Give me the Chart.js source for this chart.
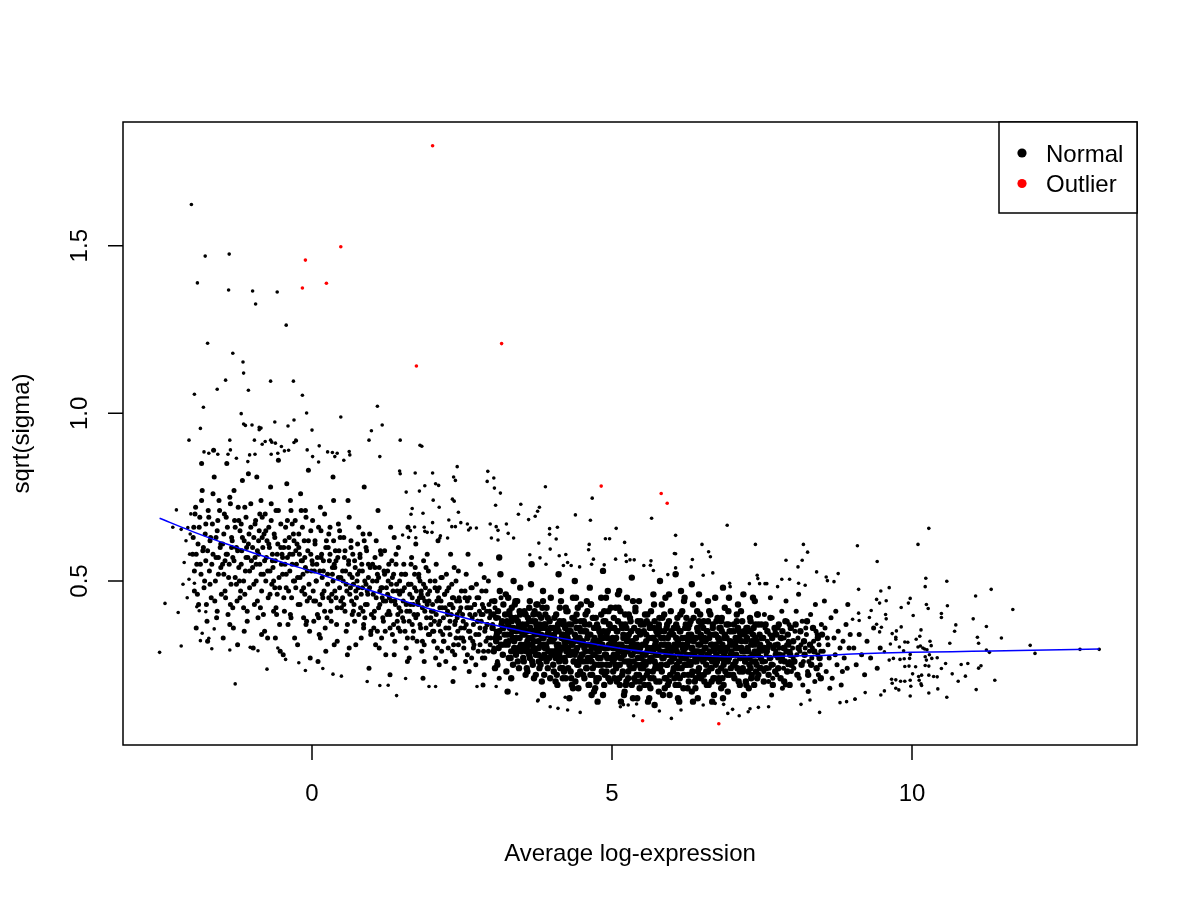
<!DOCTYPE html>
<html><head><meta charset="utf-8">
<style>html,body{margin:0;padding:0;background:#fff}canvas{display:block}</style>
<script src="https://cdn.jsdelivr.net/npm/chart.js@4.4.0/dist/chart.umd.min.js"></script>
</head><body>
<canvas id="c" width="1200" height="900"></canvas>
<script>
// ---- data ----
const xTicks = [0, 5, 10];
const xTickLabels = ["0", "5", "10"];
const yTicks = [0.5, 1.0, 1.5];
const yTickLabels = ["0.5", "1.0", "1.5"];
const xTitle = "Average log-expression";
const yTitle = "sqrt(sigma)";
const legendLabels = ["Normal", "Outlier"];

const trendX = [-2.54,-2,-1.5,-1,-0.5,0,0.5,1,1.5,2,2.5,3,3.5,4,4.5,5,5.5,6,6.5,7,7.5,8,8.5,9,9.5,10,11,12,13.12];
const trendY = [.687,.648,.615,.585,.556,.528,.498,.470,.442,.415,.392,.370,.351,.334,.318,.303,.290,.281,.276,.274,.274,.276,.278,.282,.285,.287,.290,.293,.297];

const outlierPts = [[2.01,1.798],[0.48,1.497],[-0.11,1.457],[-0.16,1.374],[0.24,1.388],[3.16,1.208],[1.74,1.141],[4.82,.783],[5.82,.761],[5.92,.732],[5.51,.083],[6.78,.074]];

const normalSparse = [
[-2.01,1.623],[-1.78,1.469],[-1.38,1.475],[-1.91,1.389],[-1.39,1.368],[-0.99,1.365],[-0.58,1.362],[-0.94,1.326],[-0.43,1.263],[-1.74,1.209],[-1.32,1.179],[-1.15,1.153],[-1.14,1.120],[-1.44,1.099],[-0.69,1.096],[-0.31,1.096],[-1.96,1.057],[-1.58,1.072],[-1.06,1.069],[-0.16,1.054],[-1.81,1.018],[1.09,1.021],[-1.18,0.999],[-0.09,1.001],[0.48,0.989],[-0.30,0.980],[-0.62,0.974],[-1.14,0.968],[-1.11,0.964],[-1.00,0.965],[-1.86,0.955],[-0.88,0.958],[-0.85,0.956],[-0.88,0.951],[-0.40,0.962],[0.00,0.950],[1.17,0.965],[0.99,0.948],[-1.37,0.92],[-0.96,0.92],[-0.69,0.92],[-0.27,0.92],[0.95,0.92],[1.47,0.92],[-2.05,0.92],
[-1.80,.885],[-1.72,.881],[-1.57,.878],[-1.36,.891],[-1.40,.878],[-1.26,.866],[-1.04,.876],[-0.95,.878],[-1.07,.856],[-0.83,.908],[-0.78,.916],[-0.67,.914],[-0.61,.911],[-0.68,.878],[-0.57,.881],[-0.51,.901],[-0.46,.888],[-0.39,.89],[-0.30,.913],[-0.26,.918],[-0.08,.891],[0.01,.871],[0.11,.855],[0.12,.903],[0.26,.885],[0.34,.883],[0.42,.881],[0.38,.871],[0.62,.886],[0.63,.876],[0.53,.86],[1.13,.871],[1.46,.828],[1.80,.905],
[1.83,.902],[2.42,.841],[2.93,.827],[1.72,.822],[2.01,.822],[1.47,.82],[2.36,.81],[2.39,.80],[3.03,.807],[2.92,.797],[1.88,.784],[2.06,.79],[2.11,.785],[3.89,.781],[1.57,.765],[1.79,.768],[3.04,.777],[3.14,.762],[4.67,.747],[2.02,.741],[2.34,.744],[2.37,.738],[3.06,.726],[3.79,.72],[3.76,.708],[1.67,.716],[2.12,.72],[2.44,.705],[1.85,.702],[1.65,.699],[3.48,.729],[3.44,.699],[3.72,.693],[3.61,.683],[4.39,.697],[4.64,.681],[5.66,.687],[5.07,.657],[6.06,.636],[6.92,.666],[2.01,.674],[2.28,.682],[2.48,.674],[2.59,.67],[2.33,.662],[2.39,.662],[2.97,.67],[3.24,.67],[3.07,.662],[3.10,.651],[3.27,.642],[3.96,.656],[4.09,.66],[2.64,.658],[2.61,.652],[2.74,.658],[1.71,.661],[1.87,.66],[1.64,.65],[1.88,.648],[1.92,.645],[2.00,.645],[1.51,.637],[2.14,.635],[1.61,.630],[1.73,.629],[2.13,.628],[2.26,.628],[2.99,.628],[3.10,.622],[3.36,.628],[3.96,.639],[4.07,.625],[4.89,.626],[4.96,.626],
[3.78,.613],[3.97,.595],[4.62,.609],[4.61,.593],[5.21,.615],[6.50,.609],[7.39,.609],[8.19,.609],[8.26,.586],[9.09,.605],[10.28,.657],[10.10,.609],[9.42,.558],[3.80,.569],[3.63,.578],[3.90,.55],[4.12,.575],[4.23,.579],[4.26,.555],[4.19,.546],[4.32,.546],[4.46,.542],[4.69,.565],[4.66,.55],[4.87,.548],[5.06,.565],[5.23,.577],[5.24,.558],[5.30,.563],[5.37,.563],[5.65,.56],[5.53,.546],[5.64,.547],[5.69,.531],[6.04,.582],[6.06,.581],[6.34,.564],[6.64,.572],[6.61,.587],[6.06,.539],[6.32,.542],[5.93,.519],[6.08,.523],[6.52,.517],[6.68,.524],[6.96,.493],[6.97,.483],[7.90,.562],[8.10,.542],[8.17,.562],[8.41,.527],[8.57,.512],[8.59,.501],[8.70,.498],[8.77,.522],[7.42,.517],[7.43,.507],[7.83,.505],[7.96,.505],[8.11,.493],[8.22,.487],[7.29,.492],[7.46,.492],[7.55,.492],[7.58,.492],[7.76,.483],[9.62,.48],[9.11,.475],[10.23,.508],[10.22,.483],[10.58,.499],[9.48,.47],
[11.32,.475],[11.06,.455],[9.41,.445],[9.57,.441],[9.46,.434],[9.97,.448],[9.94,.434],[9.82,.421],[10.24,.43],[10.27,.418],[10.59,.426],[9.32,.412],[10.49,.403],[10.49,.391],[10.02,.397],[9.56,.40],[9.57,.387],[11.02,.387],[9.11,.404],[9.01,.386],[9.12,.382],[9.29,.391],[10.73,.369],[10.71,.35],[11.24,.364],[9.82,.363],[9.74,.351],[9.67,.343],[9.49,.362],[9.41,.371],[9.46,.348],[10.15,.354],[10.13,.335],[11.49,.33],[11.09,.332],[11.11,.314],[11.97,.308],[10.63,.314],[10.30,.32],[10.32,.307],[10.07,.326],[9.88,.318],[9.73,.326],[9.73,.332],[9.93,.317],[10.10,.303],[10.14,.306],[10.21,.297],[10.25,.295],[10.18,.30],[11.24,.294],[11.29,.287],[12.05,.284],[12.80,.296],[13.12,.296],[9.79,.303],[9.86,.292],[9.64,.312],[9.54,.289],[10.29,.28],[10.33,.269],[10.42,.271],[10.22,.274],[10.24,.264],[9.97,.281],[9.96,.269],[9.87,.268],[9.80,.266],[9.69,.269],[9.62,.264],[10.82,.251],[10.93,.254],[10.56,.254],[11.15,.247],[11.11,.24],[10.49,.239],[10.28,.246],[10.22,.248],[10.06,.244],[9.95,.246],[9.88,.245],[10.67,.223],[10.89,.216],[10.36,.215],[10.42,.214],[10.28,.219],[10.16,.219],[10.11,.215],[10.01,.223],[10.77,.201],[11.38,.204],[10.15,.193],[10.16,.188],[10.12,.204],[9.97,.204],[9.88,.201],[9.81,.201],[9.73,.205],[11.07,.176],[10.43,.178],[10.28,.166],[9.97,.157],[9.98,.186],[10.58,.153],[9.78,.175],[9.73,.18],[9.67,.195],[9.66,.207],[9.54,.172],[9.48,.16],[9.22,.167],[9.05,.147],[11.68,.415],
[-2.54,.287],[-2.45,.433],[-2.23,.406],[-2.18,.306],[-1.86,.322],[-1.72,.329],[-1.67,.298],[-1.88,.411],[-1.77,.408],[-1.92,.423],[-2.13,.555],[-2.05,.505],[-1.96,.493],[-2.26,.712],[-2.32,.66],[-2.18,.654],[-2.07,.659],[-1.83,.344],[-1.63,.357],[-1.37,.294],[-1.28,.193],[-1.03,.302],[-0.90,.292],[-0.75,.237],[-0.57,.30],[-0.44,.266],[-0.22,.256],[-0.11,.233],[0.18,.239],[0.35,.222],[0.49,.216],[0.92,.20],[1.13,.188],[1.27,.189],[1.41,.158],[1.56,.209],[1.95,.185],[2.06,.185],[2.75,.185],[3.07,.185],[3.41,.163],[3.77,.145],
[5.36,.098],[5.99,.09],[7.12,.098],[4.47,.108],[8.46,.108],[8.15,.132],[6.93,.105],[7.01,.117],[7.27,.11],[7.30,.119],[7.44,.123],[7.61,.125],[4.22,.153],[3.76,.142],[3.97,.125],[4.10,.12],[4.26,.115],[5.14,.125],[5.19,.131],[5.27,.13],[5.41,.133],[5.79,.112],[6.15,.115],[6.52,.13],[6.72,.135],[6.86,.132],[8.30,.145],[8.80,.137],[8.91,.14],[9.05,.148],
[-2.10,.62],[-2.04,.58],[-2.02,.70],[-2.15,.49],[-2.08,.45],[-2.03,.64]
];

const bandLeft = [
[-1.99,.58],[-1.97,.66],[-1.96,.47],[-1.94,.72],[-1.92,.55],[-1.90,.61],[-1.89,.43],[-1.87,.69],[-1.85,.52],[-1.83,.77],[-1.82,.59],[-1.80,.48],[-1.78,.64],[-1.77,.56],[-1.75,.38],[-1.73,.71],[-1.71,.53],[-1.70,.62],[-1.68,.45],[-1.66,.67],[-1.65,.58],[-1.63,.81],[-1.61,.50],[-1.60,.63],[-1.58,.41],[-1.56,.57],[-1.55,.74],[-1.53,.60],[-1.51,.46],[-1.93,.36],[-1.84,.85],[-1.74,.32],[-1.64,.89],[-1.57,.68],[-1.52,.54],
[-1.49,.61],[-1.47,.52],[-1.46,.70],[-1.44,.45],[-1.43,.58],[-1.41,.66],[-1.40,.40],[-1.38,.55],[-1.37,.75],[-1.35,.49],[-1.34,.63],[-1.32,.57],[-1.31,.36],[-1.29,.68],[-1.28,.51],[-1.26,.60],[-1.25,.44],[-1.23,.72],[-1.22,.54],[-1.20,.65],[-1.19,.47],[-1.17,.59],[-1.16,.80],[-1.14,.42],[-1.13,.62],[-1.11,.53],[-1.10,.69],[-1.08,.38],[-1.07,.57],[-1.05,.64],[-1.04,.48],[-1.02,.73],[-1.01,.56],[-1.48,.33],[-1.42,.85],[-1.36,.43],[-1.30,.77],[-1.24,.31],[-1.18,.67],[-1.12,.46],[-1.06,.82],[-1.45,.56],[-1.33,.62],[-1.21,.50],[-1.09,.60],
[-0.99,.54],[-0.97,.63],[-0.96,.43],[-0.94,.68],[-0.93,.50],[-0.91,.59],[-0.90,.39],[-0.88,.65],[-0.87,.55],[-0.85,.74],[-0.84,.47],[-0.82,.60],[-0.81,.52],[-0.79,.35],[-0.78,.70],[-0.76,.57],[-0.75,.62],[-0.73,.45],[-0.72,.66],[-0.70,.53],[-0.69,.78],[-0.67,.49],[-0.66,.58],[-0.64,.41],[-0.63,.64],[-0.61,.56],[-0.60,.71],[-0.58,.46],[-0.57,.61],[-0.55,.51],[-0.54,.37],[-0.52,.67],[-0.51,.55],[-0.98,.30],[-0.92,.81],[-0.86,.42],[-0.80,.64],[-0.74,.33],[-0.68,.73],[-0.62,.48],[-0.56,.86],[-0.53,.29],[-0.95,.57],[-0.83,.69],[-0.77,.50],[-0.71,.60],[-0.65,.54],[-0.59,.40],[-0.89,.62],[-0.50,.58],
[-0.49,.52],[-0.47,.60],[-0.46,.41],[-0.44,.66],[-0.43,.48],[-0.41,.57],[-0.40,.37],[-0.38,.63],[-0.37,.53],[-0.35,.71],[-0.34,.45],[-0.32,.58],[-0.31,.50],[-0.29,.33],[-0.28,.68],[-0.26,.55],[-0.25,.61],[-0.23,.43],[-0.22,.64],[-0.20,.51],[-0.19,.76],[-0.17,.47],[-0.16,.56],[-0.14,.39],[-0.13,.62],[-0.11,.54],[-0.10,.69],[-0.08,.44],[-0.07,.59],[-0.05,.49],[-0.04,.35],[-0.02,.65],[-0.01,.53],[-0.48,.28],[-0.42,.79],[-0.36,.40],[-0.30,.62],[-0.24,.31],[-0.18,.71],[-0.12,.46],[-0.06,.83],[-0.03,.27],[-0.45,.55],[-0.33,.67],[-0.27,.48],[-0.21,.58],[-0.15,.52],[-0.09,.38],[-0.39,.60],[0.00,.56]
];

const bandLeft2 = [
[-1.98,.63],[-1.96,.53],[-1.95,.70],[-1.93,.58],[-1.91,.46],[-1.88,.66],[-1.86,.55],[-1.84,.74],[-1.81,.60],[-1.79,.50],[-1.77,.67],[-1.76,.43],
[-1.74,.59],[-1.72,.69],[-1.70,.49],[-1.69,.63],[-1.67,.55],[-1.65,.76],[-1.62,.44],[-1.60,.57],[-1.58,.65],[-1.56,.52],[-1.54,.71],[-1.52,.61],[-1.59,.39],
[-1.49,.55],[-1.47,.64],[-1.45,.47],[-1.43,.69],[-1.41,.58],[-1.39,.51],[-1.36,.73],[-1.34,.60],[-1.32,.42],[-1.30,.56],[-1.28,.66],[-1.26,.49],[-1.37,.37],
[-1.24,.59],[-1.22,.68],[-1.20,.45],[-1.18,.55],[-1.16,.63],[-1.14,.50],[-1.12,.72],[-1.10,.57],[-1.08,.41],[-1.06,.61],[-1.04,.53],[-1.02,.66],[-1.13,.35],
[-0.99,.60],[-0.97,.49],[-0.95,.67],[-0.93,.55],[-0.91,.44],[-0.89,.58],[-0.87,.70],[-0.85,.52],[-0.83,.63],[-0.81,.40],[-0.79,.56],[-0.77,.65],[-0.84,.34],
[-0.74,.53],[-0.72,.61],[-0.70,.46],[-0.68,.68],[-0.66,.56],[-0.64,.50],[-0.62,.63],[-0.60,.42],[-0.58,.58],[-0.56,.71],[-0.54,.48],[-0.52,.60],[-0.61,.33],
[-0.49,.57],[-0.47,.45],[-0.45,.62],[-0.43,.52],[-0.41,.68],[-0.39,.47],[-0.37,.58],[-0.35,.39],[-0.33,.55],[-0.31,.64],[-0.29,.50],[-0.27,.59],[-0.36,.74],
[-0.24,.51],[-0.22,.60],[-0.20,.43],[-0.18,.56],[-0.16,.66],[-0.14,.48],[-0.12,.57],[-0.10,.37],[-0.08,.53],[-0.06,.62],[-0.04,.45],[-0.02,.58],[-0.11,.71],
[0.01,.55],[0.03,.44],[0.05,.62],[0.07,.50],[0.09,.57],[0.11,.39],[0.13,.53],[0.15,.65],[0.17,.46],[0.19,.56],[0.21,.41],[0.23,.60],[0.14,.33],
[0.26,.52],[0.28,.45],[0.30,.58],[0.32,.38],[0.34,.54],[0.36,.62],[0.38,.47],[0.40,.56],[0.42,.42],[0.44,.51],[0.46,.65],[0.48,.44],[0.37,.31],
[0.51,.53],[0.53,.43],[0.55,.59],[0.57,.49],[0.59,.37],[0.61,.55],[0.63,.46],[0.65,.62],[0.67,.51],[0.69,.41],[0.71,.56],[0.73,.47],[0.62,.30],
[0.76,.52],[0.78,.40],[0.80,.58],[0.82,.46],[0.84,.53],[0.86,.37],[0.88,.50],[0.90,.60],[0.92,.43],[0.94,.55],[0.96,.48],[0.98,.34],[0.85,.64],
[1.01,.50],[1.03,.39],[1.05,.54],[1.07,.45],[1.09,.35],[1.11,.51],[1.13,.43],[1.15,.58],[1.17,.48],[1.19,.38],[1.21,.52],[1.23,.44],[1.12,.30],
[1.26,.46],[1.28,.55],[1.30,.40],[1.32,.49],[1.34,.34],[1.36,.52],[1.38,.44],[1.40,.58],[1.42,.47],[1.44,.36],[1.46,.50],[1.48,.41],[1.37,.28],
[1.51,.47],[1.53,.38],[1.55,.52],[1.57,.43],[1.59,.33],[1.61,.49],[1.63,.41],[1.65,.55],[1.67,.45],[1.69,.35],[1.71,.48],[1.73,.39],[1.62,.27],
[1.76,.44],[1.78,.52],[1.80,.37],[1.82,.46],[1.84,.32],[1.86,.49],[1.88,.41],[1.90,.54],[1.92,.43],[1.94,.34],[1.96,.47],[1.98,.39],[1.87,.26],
[2.01,.43],[2.03,.35],[2.05,.48],[2.07,.40],[2.09,.30],[2.11,.45],[2.13,.38],[2.15,.51],[2.17,.42],[2.19,.32],[2.21,.46],[2.23,.36],[2.12,.25],
[2.26,.41],[2.28,.48],[2.30,.34],[2.32,.43],[2.34,.29],[2.36,.45],[2.38,.37],[2.40,.50],[2.42,.40],[2.44,.31],[2.46,.44],[2.48,.36],[2.37,.24],
[2.51,.40],[2.53,.32],[2.55,.45],[2.57,.37],[2.59,.28],[2.61,.42],[2.63,.35],[2.65,.48],[2.67,.39],[2.69,.30],[2.71,.43],[2.73,.34],[2.62,.23],
[2.76,.38],[2.78,.45],[2.80,.31],[2.82,.40],[2.84,.27],[2.86,.42],[2.88,.35],[2.90,.47],[2.92,.37],[2.94,.29],[2.96,.41],[2.98,.33],[2.87,.22],
[3.01,.37],[3.03,.30],[3.05,.42],[3.07,.35],[3.09,.26],[3.11,.39],[3.13,.33],[3.15,.45],[3.17,.36],[3.19,.28],[3.21,.40],[3.23,.32],[3.12,.21]
];

const bandMid = [
[0.02,.47],[0.05,.61],[0.03,.38],[0.08,.55],[0.11,.66],[0.07,.50],[0.13,.43],[0.16,.58],[0.12,.34],[0.19,.53],[0.21,.70],[0.18,.45],[0.24,.62],[0.26,.49],[0.23,.29],[0.29,.56],[0.31,.41],[0.28,.64],[0.34,.52],[0.36,.74],[0.33,.46],[0.39,.59],[0.41,.37],[0.38,.54],[0.44,.67],[0.46,.48],[0.43,.57],[0.49,.42],[0.47,.63],[0.04,.53],[0.09,.40],[0.14,.72],[0.17,.51],[0.22,.36],[0.27,.60],[0.32,.44],[0.37,.55],[0.42,.32],[0.48,.51],[0.01,.68],[0.06,.44],[0.15,.57],[0.20,.47],[0.25,.39],[0.30,.66],[0.35,.50],[0.40,.45],[0.45,.59],[0.10,.26],[0.35,.81],
[0.52,.50],[0.55,.41],[0.53,.63],[0.58,.47],[0.61,.56],[0.57,.35],[0.63,.52],[0.66,.44],[0.62,.69],[0.69,.49],[0.71,.38],[0.68,.58],[0.74,.45],[0.76,.61],[0.73,.31],[0.79,.53],[0.81,.42],[0.78,.66],[0.84,.48],[0.86,.36],[0.83,.55],[0.89,.43],[0.91,.59],[0.88,.39],[0.94,.51],[0.96,.64],[0.93,.46],[0.99,.40],[0.97,.54],[0.54,.57],[0.59,.28],[0.64,.48],[0.67,.40],[0.72,.54],[0.77,.48],[0.82,.33],[0.87,.62],[0.92,.47],[0.98,.35],[0.51,.45],[0.56,.53],[0.65,.60],[0.70,.43],[0.75,.50],[0.80,.57],[0.85,.41],[0.90,.49],[0.95,.24],[0.60,.74],[0.87,.78],
[1.02,.46],[1.05,.57],[1.03,.36],[1.08,.50],[1.11,.42],[1.07,.62],[1.13,.47],[1.16,.33],[1.12,.54],[1.19,.44],[1.21,.59],[1.18,.39],[1.24,.48],[1.26,.53],[1.23,.28],[1.29,.45],[1.31,.66],[1.28,.41],[1.34,.51],[1.36,.37],[1.33,.56],[1.39,.43],[1.41,.49],[1.38,.32],[1.44,.60],[1.46,.46],[1.43,.40],[1.49,.52],[1.47,.35],[1.04,.41],[1.09,.52],[1.14,.59],[1.17,.45],[1.22,.35],[1.27,.50],[1.32,.44],[1.37,.63],[1.42,.38],[1.48,.47],[1.01,.55],[1.06,.31],[1.15,.48],[1.20,.53],[1.25,.40],[1.30,.36],[1.35,.47],[1.40,.55],[1.45,.42],[1.10,.71],[1.30,.22],
[1.52,.44],[1.55,.35],[1.53,.55],[1.58,.41],[1.61,.49],[1.57,.30],[1.63,.46],[1.66,.57],[1.62,.38],[1.69,.43],[1.71,.52],[1.68,.33],[1.74,.47],[1.76,.40],[1.73,.61],[1.79,.45],[1.81,.36],[1.78,.51],[1.84,.42],[1.86,.56],[1.83,.29],[1.89,.48],[1.91,.39],[1.88,.44],[1.94,.53],[1.96,.34],[1.93,.46],[1.99,.41],[1.97,.50],[1.54,.48],[1.59,.26],[1.64,.43],[1.67,.37],[1.72,.54],[1.77,.43],[1.82,.47],[1.87,.31],[1.92,.58],[1.98,.37],[1.51,.39],[1.56,.52],[1.65,.49],[1.70,.40],[1.75,.32],[1.80,.50],[1.85,.45],[1.90,.36],[1.95,.44],[1.60,.66],[1.85,.21],
[2.02,.41],[2.05,.50],[2.03,.32],[2.08,.44],[2.11,.37],[2.07,.55],[2.13,.42],[2.16,.29],[2.12,.48],[2.19,.39],[2.21,.46],[2.18,.34],[2.24,.52],[2.26,.40],[2.23,.26],[2.29,.43],[2.31,.58],[2.28,.36],[2.34,.45],[2.36,.31],[2.33,.49],[2.39,.38],[2.41,.44],[2.38,.28],[2.44,.53],[2.46,.41],[2.43,.35],[2.49,.47],[2.47,.33],[2.04,.38],[2.09,.47],[2.14,.35],[2.17,.51],[2.22,.42],[2.27,.30],[2.32,.40],[2.37,.54],[2.42,.39],[2.48,.42],[2.01,.35],[2.06,.27],[2.15,.44],[2.20,.32],[2.25,.47],[2.30,.38],[2.35,.42],[2.40,.33],[2.45,.45],[2.10,.62],[2.35,.20],
[2.52,.38],[2.55,.47],[2.53,.30],[2.58,.42],[2.61,.35],[2.57,.52],[2.63,.40],[2.66,.27],[2.62,.45],[2.69,.37],[2.71,.43],[2.68,.32],[2.74,.49],[2.76,.38],[2.73,.25],[2.79,.41],[2.81,.55],[2.78,.34],[2.84,.43],[2.86,.29],[2.83,.47],[2.89,.36],[2.91,.41],[2.88,.27],[2.94,.50],[2.96,.39],[2.93,.33],[2.99,.44],[2.97,.31],[2.54,.36],[2.59,.44],[2.64,.33],[2.67,.48],[2.72,.40],[2.77,.29],[2.82,.38],[2.87,.51],[2.92,.37],[2.98,.40],[2.51,.33],[2.56,.26],[2.65,.42],[2.70,.31],[2.75,.45],[2.80,.36],[2.85,.40],[2.90,.32],[2.95,.43],[2.60,.58],[2.85,.19]
];

const bandCore = [
[3.01,.36],[3.03,.29],[3.04,.44],[3.06,.33],[3.07,.39],[3.09,.25],[3.10,.41],[3.12,.35],[3.13,.47],[3.15,.31],[3.16,.37],[3.18,.28],[3.19,.43],[3.21,.34],[3.22,.40],[3.24,.23],[3.25,.38],[3.27,.45],[3.28,.32],[3.30,.36],[3.31,.27],[3.33,.42],[3.34,.35],[3.36,.50],[3.37,.30],[3.39,.39],[3.40,.33],[3.42,.44],[3.43,.26],[3.45,.37],[3.46,.41],[3.48,.31],[3.49,.35],[3.02,.40],[3.05,.24],[3.08,.34],[3.11,.30],[3.14,.52],[3.17,.38],[3.20,.31],[3.23,.46],[3.26,.34],[3.29,.40],[3.32,.21],[3.35,.33],[3.38,.43],[3.41,.29],[3.44,.36],[3.47,.48],[3.26,.17],[3.12,.57],[3.33,.38],[3.19,.36],[3.40,.39],[3.07,.32],
[3.51,.34],[3.52,.27],[3.54,.41],[3.55,.31],[3.57,.37],[3.58,.24],[3.60,.39],[3.61,.33],[3.63,.44],[3.64,.29],[3.66,.35],[3.67,.26],[3.69,.40],[3.70,.32],[3.72,.38],[3.73,.22],[3.75,.36],[3.76,.43],[3.78,.30],[3.79,.34],[3.81,.25],[3.82,.39],[3.84,.33],[3.85,.47],[3.87,.28],[3.88,.36],[3.90,.31],[3.91,.42],[3.93,.24],[3.94,.35],[3.96,.38],[3.97,.29],[3.99,.33],[3.53,.36],[3.56,.22],[3.59,.32],[3.62,.28],[3.65,.49],[3.68,.35],[3.71,.29],[3.74,.43],[3.77,.32],[3.80,.37],[3.83,.20],[3.86,.31],[3.89,.40],[3.92,.27],[3.95,.34],[3.98,.45],[3.58,.30],[3.62,.38],[3.67,.31],[3.71,.35],[3.78,.26],[3.82,.34],[3.87,.37],[3.91,.30],[3.95,.27],[3.66,.55],[3.85,.16],
[4.01,.32],[4.02,.25],[4.04,.39],[4.05,.29],[4.07,.35],[4.08,.22],[4.10,.37],[4.11,.31],[4.13,.42],[4.14,.27],[4.16,.33],[4.17,.24],[4.19,.38],[4.20,.30],[4.22,.36],[4.23,.21],[4.25,.34],[4.26,.41],[4.28,.28],[4.29,.32],[4.31,.23],[4.32,.37],[4.34,.31],[4.35,.45],[4.37,.26],[4.38,.34],[4.40,.29],[4.41,.40],[4.43,.22],[4.44,.33],[4.46,.36],[4.47,.27],[4.49,.31],[4.03,.34],[4.06,.20],[4.09,.30],[4.12,.26],[4.15,.47],[4.18,.33],[4.21,.27],[4.24,.41],[4.27,.30],[4.30,.35],[4.33,.19],[4.36,.29],[4.39,.38],[4.42,.25],[4.45,.32],[4.48,.43],[4.04,.28],[4.09,.36],[4.13,.29],[4.18,.24],[4.22,.31],[4.27,.35],[4.31,.28],[4.36,.39],[4.40,.33],[4.45,.26],[4.48,.35],[4.11,.52],[4.29,.15],[4.38,.50],[4.20,.34],[4.44,.18],
[4.51,.28],[4.53,.35],[4.52,.22],[4.55,.31],[4.56,.40],[4.58,.26],[4.59,.33],[4.61,.19],[4.62,.37],[4.64,.29],[4.65,.43],[4.67,.31],[4.68,.24],[4.70,.36],[4.71,.28],[4.73,.39],[4.74,.21],[4.76,.32],[4.77,.27],[4.79,.35],[4.80,.30],[4.82,.45],[4.83,.25],[4.85,.33],[4.86,.38],[4.88,.22],[4.89,.30],[4.91,.34],[4.92,.27],[4.94,.41],[4.95,.31],[4.97,.20],[4.98,.36],[4.54,.30],[4.57,.24],[4.60,.34],[4.63,.48],[4.66,.26],[4.69,.32],[4.72,.18],[4.75,.37],[4.78,.29],[4.81,.34],[4.84,.23],[4.87,.41],[4.90,.28],[4.93,.35],[4.96,.25],[4.99,.32],[4.55,.37],[4.60,.27],[4.64,.22],[4.69,.39],[4.73,.30],[4.78,.25],[4.82,.33],[4.87,.30],[4.91,.23],[4.95,.37],[4.99,.27],[4.66,.16],[4.85,.53],[4.76,.14],[4.58,.44],[4.93,.47],
[5.01,.30],[5.02,.23],[5.04,.36],[5.05,.27],[5.07,.33],[5.08,.20],[5.10,.38],[5.11,.29],[5.13,.25],[5.14,.41],[5.16,.31],[5.17,.22],[5.19,.34],[5.20,.28],[5.22,.37],[5.23,.19],[5.25,.32],[5.26,.26],[5.28,.40],[5.29,.30],[5.31,.24],[5.32,.35],[5.34,.28],[5.35,.44],[5.37,.21],[5.38,.31],[5.40,.33],[5.41,.25],[5.43,.38],[5.44,.29],[5.46,.18],[5.47,.34],[5.49,.27],[5.03,.32],[5.06,.25],[5.09,.35],[5.12,.47],[5.15,.27],[5.18,.30],[5.21,.17],[5.24,.36],[5.27,.23],[5.30,.39],[5.33,.31],[5.36,.26],[5.39,.42],[5.42,.30],[5.45,.22],[5.48,.37],[5.03,.28],[5.08,.31],[5.12,.21],[5.17,.36],[5.21,.29],[5.26,.33],[5.30,.26],[5.35,.30],[5.39,.20],[5.44,.35],[5.48,.24],[5.15,.14],[5.33,.51],[5.25,.45],[5.42,.15],[5.06,.42],
[5.51,.28],[5.53,.35],[5.52,.21],[5.55,.31],[5.56,.25],[5.58,.38],[5.59,.29],[5.61,.19],[5.62,.33],[5.64,.27],[5.65,.41],[5.67,.30],[5.68,.23],[5.70,.36],[5.71,.26],[5.73,.32],[5.74,.20],[5.76,.34],[5.77,.28],[5.79,.39],[5.80,.24],[5.82,.31],[5.83,.43],[5.85,.27],[5.86,.33],[5.88,.18],[5.89,.29],[5.91,.36],[5.92,.25],[5.94,.31],[5.95,.38],[5.97,.22],[5.98,.30],[5.54,.26],[5.57,.32],[5.60,.23],[5.63,.37],[5.66,.29],[5.69,.46],[5.72,.24],[5.75,.30],[5.78,.17],[5.81,.35],[5.84,.27],[5.87,.40],[5.90,.21],[5.93,.33],[5.96,.28],[5.99,.35],[5.55,.40],[5.60,.30],[5.64,.21],[5.69,.33],[5.73,.28],[5.78,.37],[5.82,.25],[5.87,.31],[5.91,.28],[5.95,.20],[5.99,.26],[5.62,.15],[5.80,.50],[5.71,.13],[5.89,.45],[5.96,.16],
[6.01,.27],[6.02,.34],[6.04,.21],[6.05,.30],[6.07,.37],[6.08,.25],[6.10,.32],[6.11,.19],[6.13,.28],[6.14,.40],[6.16,.24],[6.17,.33],[6.19,.29],[6.20,.22],[6.22,.36],[6.23,.27],[6.25,.31],[6.26,.18],[6.28,.34],[6.29,.26],[6.31,.38],[6.32,.30],[6.34,.23],[6.35,.43],[6.37,.28],[6.38,.20],[6.40,.33],[6.41,.26],[6.43,.35],[6.44,.29],[6.46,.22],[6.47,.31],[6.49,.37],[6.03,.24],[6.06,.30],[6.09,.36],[6.12,.26],[6.15,.47],[6.18,.31],[6.21,.25],[6.24,.39],[6.27,.22],[6.30,.33],[6.33,.17],[6.36,.32],[6.39,.27],[6.42,.41],[6.45,.24],[6.48,.34],[6.04,.31],[6.09,.22],[6.13,.35],[6.18,.27],[6.22,.30],[6.27,.36],[6.31,.25],[6.36,.29],[6.40,.21],[6.45,.38],[6.49,.28],[6.12,.14],[6.33,.49],[6.21,.45],[6.43,.15],[6.06,.52],
[6.51,.29],[6.53,.22],[6.52,.36],[6.55,.27],[6.56,.32],[6.58,.19],[6.59,.35],[6.61,.28],[6.62,.41],[6.64,.24],[6.65,.31],[6.67,.26],[6.68,.37],[6.70,.30],[6.71,.21],[6.73,.34],[6.74,.28],[6.76,.39],[6.77,.23],[6.79,.32],[6.80,.27],[6.82,.18],[6.83,.35],[6.85,.30],[6.86,.25],[6.88,.42],[6.89,.29],[6.91,.33],[6.92,.22],[6.94,.37],[6.95,.27],[6.97,.31],[6.98,.24],[6.54,.33],[6.57,.25],[6.60,.38],[6.63,.29],[6.66,.20],[6.69,.34],[6.72,.45],[6.75,.26],[6.78,.30],[6.81,.36],[6.84,.21],[6.87,.33],[6.90,.27],[6.93,.17],[6.96,.35],[6.99,.29],[6.55,.30],[6.60,.23],[6.64,.34],[6.69,.27],[6.73,.31],[6.78,.20],[6.82,.38],[6.87,.26],[6.91,.30],[6.67,.14],[6.85,.48],
[7.01,.28],[7.03,.35],[7.02,.22],[7.05,.31],[7.06,.26],[7.08,.38],[7.09,.30],[7.11,.20],[7.12,.33],[7.14,.27],[7.15,.41],[7.17,.29],[7.18,.24],[7.20,.35],[7.21,.27],[7.23,.32],[7.24,.19],[7.26,.36],[7.27,.29],[7.29,.25],[7.30,.39],[7.32,.31],[7.33,.22],[7.35,.34],[7.36,.28],[7.38,.44],[7.39,.26],[7.41,.32],[7.42,.21],[7.44,.37],[7.45,.29],[7.47,.24],[7.49,.33],[7.04,.25],[7.07,.32],[7.10,.36],[7.13,.23],[7.16,.30],[7.19,.46],[7.22,.26],[7.25,.33],[7.28,.18],[7.31,.35],[7.34,.28],[7.37,.31],[7.40,.23],[7.43,.40],[7.46,.30],[7.48,.27],[7.06,.30],[7.14,.34],[7.22,.29],[7.31,.24],[7.39,.37],[7.47,.31]
];

const bandCore2 = [
[3.26,.31],[3.27,.37],[3.28,.27],[3.29,.41],[3.31,.34],[3.32,.29],[3.33,.39],[3.35,.25],[3.36,.36],[3.37,.32],[3.39,.44],[3.40,.28],[3.41,.35],[3.43,.38],[3.44,.30],[3.45,.24],[3.46,.33],[3.47,.40],[3.48,.36],[3.49,.29],
[3.51,.37],[3.52,.30],[3.53,.26],[3.54,.34],[3.56,.40],[3.57,.29],[3.58,.35],[3.59,.23],[3.61,.31],[3.62,.42],[3.63,.27],[3.64,.36],[3.66,.33],[3.67,.38],[3.68,.25],[3.69,.30],[3.71,.41],[3.72,.34],[3.73,.28],[3.74,.37],[3.70,.21],
[3.76,.35],[3.77,.28],[3.78,.40],[3.79,.24],[3.81,.31],[3.82,.36],[3.83,.27],[3.84,.42],[3.86,.33],[3.87,.22],[3.88,.30],[3.89,.37],[3.91,.26],[3.92,.34],[3.93,.39],[3.94,.29],[3.96,.32],[3.97,.21],[3.98,.36],[3.99,.28],[3.85,.44],
[4.01,.29],[4.02,.36],[4.03,.23],[4.04,.33],[4.06,.27],[4.07,.40],[4.08,.31],[4.09,.19],[4.11,.35],[4.12,.28],[4.13,.38],[4.14,.24],[4.16,.30],[4.17,.34],[4.18,.21],[4.19,.37],[4.21,.32],[4.22,.26],[4.23,.42],[4.24,.29],[4.15,.44],[4.20,.23],
[4.26,.33],[4.27,.24],[4.28,.37],[4.29,.29],[4.31,.35],[4.32,.21],[4.33,.31],[4.34,.39],[4.36,.26],[4.37,.32],[4.38,.28],[4.39,.20],[4.41,.36],[4.42,.30],[4.43,.42],[4.44,.25],[4.46,.33],[4.47,.23],[4.48,.38],[4.49,.28],[4.35,.18],[4.40,.45],
[4.51,.32],[4.52,.26],[4.53,.38],[4.54,.21],[4.56,.29],[4.57,.35],[4.58,.24],[4.59,.41],[4.61,.31],[4.62,.19],[4.63,.27],[4.64,.34],[4.66,.30],[4.67,.22],[4.68,.39],[4.69,.28],[4.71,.33],[4.72,.25],[4.73,.36],[4.74,.20],[4.65,.43],[4.70,.17],
[4.76,.29],[4.77,.36],[4.78,.21],[4.79,.32],[4.81,.27],[4.82,.40],[4.83,.23],[4.84,.31],[4.86,.35],[4.87,.19],[4.88,.28],[4.89,.38],[4.91,.25],[4.92,.33],[4.93,.30],[4.94,.21],[4.96,.37],[4.97,.27],[4.98,.42],[4.99,.31],[4.85,.16],[4.90,.45],
[5.01,.33],[5.02,.26],[5.03,.39],[5.04,.21],[5.06,.30],[5.07,.24],[5.08,.35],[5.09,.28],[5.11,.42],[5.12,.31],[5.13,.19],[5.14,.27],[5.16,.37],[5.17,.29],[5.18,.23],[5.19,.33],[5.21,.26],[5.22,.40],[5.23,.30],[5.24,.20],[5.10,.46],[5.20,.16],
[5.26,.29],[5.27,.21],[5.28,.34],[5.29,.25],[5.31,.38],[5.32,.28],[5.33,.19],[5.34,.32],[5.36,.24],[5.37,.36],[5.38,.29],[5.39,.41],[5.41,.22],[5.42,.31],[5.43,.27],[5.44,.35],[5.46,.20],[5.47,.30],[5.48,.38],[5.49,.25],[5.35,.15],[5.45,.44],
[5.51,.31],[5.52,.24],[5.53,.37],[5.54,.19],[5.56,.28],[5.57,.34],[5.58,.22],[5.59,.40],[5.61,.30],[5.62,.26],[5.63,.36],[5.64,.18],[5.66,.27],[5.67,.33],[5.68,.29],[5.69,.21],[5.71,.38],[5.72,.31],[5.73,.25],[5.74,.35],[5.60,.14],[5.70,.43],
[5.76,.24],[5.77,.30],[5.78,.36],[5.79,.20],[5.81,.29],[5.82,.33],[5.83,.23],[5.84,.39],[5.86,.27],[5.87,.35],[5.88,.21],[5.89,.31],[5.91,.25],[5.92,.37],[5.93,.19],[5.94,.30],[5.96,.34],[5.97,.26],[5.98,.41],[5.99,.29],[5.85,.16],[5.95,.46],
[6.01,.30],[6.02,.23],[6.03,.36],[6.04,.27],[6.06,.19],[6.07,.33],[6.08,.29],[6.09,.39],[6.11,.24],[6.12,.31],[6.13,.21],[6.14,.35],[6.16,.27],[6.17,.41],[6.18,.30],[6.19,.18],[6.21,.33],[6.22,.25],[6.23,.37],[6.24,.28],[6.10,.15],[6.20,.44],
[6.26,.25],[6.27,.32],[6.28,.20],[6.29,.37],[6.31,.28],[6.32,.34],[6.33,.22],[6.34,.30],[6.36,.39],[6.37,.26],[6.38,.33],[6.39,.18],[6.41,.29],[6.42,.36],[6.43,.23],[6.44,.31],[6.46,.27],[6.47,.40],[6.48,.21],[6.49,.33],[6.35,.14],[6.45,.46],
[6.51,.32],[6.52,.26],[6.53,.38],[6.54,.20],[6.56,.30],[6.57,.23],[6.58,.35],[6.59,.28],[6.61,.19],[6.62,.33],[6.63,.27],[6.64,.40],[6.66,.24],[6.67,.31],[6.68,.36],[6.69,.21],[6.71,.29],[6.72,.34],[6.73,.25],[6.74,.38],[6.60,.44],[6.70,.16],
[6.76,.27],[6.77,.33],[6.78,.21],[6.79,.36],[6.81,.29],[6.82,.24],[6.83,.39],[6.84,.31],[6.86,.19],[6.87,.28],[6.88,.34],[6.89,.23],[6.91,.37],[6.92,.30],[6.93,.26],[6.94,.41],[6.96,.22],[6.97,.32],[6.98,.28],[6.99,.35],[6.85,.15],[6.95,.45],
[7.01,.31],[7.02,.25],[7.03,.37],[7.04,.21],[7.06,.33],[7.07,.28],[7.08,.40],[7.09,.24],[7.11,.30],[7.12,.35],[7.13,.19],[7.14,.27],[7.16,.32],[7.17,.38],[7.18,.23],[7.19,.29],[7.21,.34],[7.22,.26],[7.23,.20],[7.24,.36],[7.10,.43],[7.20,.16],
[7.26,.30],[7.27,.23],[7.28,.35],[7.29,.27],[7.31,.38],[7.32,.21],[7.33,.32],[7.34,.26],[7.36,.36],[7.37,.19],[7.38,.29],[7.39,.33],[7.41,.25],[7.42,.40],[7.43,.28],[7.44,.22],[7.46,.34],[7.47,.30],[7.48,.24],[7.49,.37],[7.35,.45],
[7.51,.26],[7.52,.33],[7.53,.20],[7.54,.30],[7.56,.37],[7.57,.24],[7.58,.29],[7.59,.35],[7.61,.22],[7.62,.31],[7.63,.27],[7.64,.39],[7.66,.25],[7.67,.33],[7.68,.19],[7.69,.30],[7.71,.36],[7.72,.23],[7.73,.28],[7.74,.34],
[7.76,.31],[7.77,.24],[7.78,.37],[7.79,.28],[7.81,.21],[7.82,.33],[7.83,.27],[7.84,.35],[7.86,.30],[7.87,.20],[7.88,.26],[7.89,.38],[7.91,.29],[7.92,.23],[7.93,.34],[7.94,.31],[7.96,.19],[7.97,.28],[7.98,.36],[7.99,.25],
[8.02,.32],[8.04,.26],[8.06,.37],[8.09,.22],[8.11,.30],[8.14,.35],[8.16,.25],[8.20,.32],[8.21,.28],[8.25,.38],[8.27,.22],[8.30,.31],[8.32,.25],[8.35,.36],[8.37,.29],[8.41,.24],[8.43,.33],[8.46,.27],[8.48,.21],[8.50,.34]
];

const bandRight = [
[7.51,.29],[7.53,.23],[7.55,.36],[7.57,.28],[7.59,.32],[7.61,.20],[7.63,.34],[7.65,.27],[7.67,.39],[7.69,.25],[7.71,.31],[7.73,.29],[7.75,.22],[7.77,.36],[7.79,.30],[7.81,.26],[7.83,.41],[7.85,.28],[7.87,.33],[7.89,.19],[7.91,.31],[7.93,.25],[7.95,.37],[7.97,.29],[7.99,.23],[7.52,.33],[7.56,.26],[7.60,.30],[7.64,.45],[7.68,.21],[7.72,.35],[7.76,.27],[7.80,.33],[7.84,.18],[7.88,.30],[7.92,.38],[7.96,.26],[7.54,.40],[7.62,.24],[7.70,.34],[7.78,.30],[7.86,.24],[7.94,.32],[7.66,.16],[7.90,.44],
[8.01,.30],[8.03,.24],[8.05,.35],[8.08,.28],[8.10,.33],[8.12,.21],[8.15,.31],[8.17,.38],[8.19,.26],[8.22,.30],[8.24,.34],[8.26,.23],[8.29,.29],[8.31,.40],[8.33,.27],[8.36,.32],[8.38,.20],[8.40,.35],[8.43,.28],[8.45,.31],[8.47,.25],[8.49,.37],[8.02,.27],[8.07,.41],[8.13,.29],[8.18,.19],[8.23,.36],[8.28,.26],[8.34,.30],[8.39,.43],[8.44,.22],[8.48,.29],[8.11,.46],[8.27,.17],[8.42,.34],
[8.52,.29],[8.55,.36],[8.57,.23],[8.60,.31],[8.62,.27],[8.65,.39],[8.67,.21],[8.70,.33],[8.72,.28],[8.75,.25],[8.77,.35],[8.80,.30],[8.82,.19],[8.85,.32],[8.87,.27],[8.90,.37],[8.92,.24],[8.95,.30],[8.97,.34],[8.54,.44],[8.63,.18],[8.73,.41],[8.84,.23],[8.93,.43],[8.59,.33],
[9.03,.30],[9.07,.25],[9.12,.34],[9.16,.28],[9.21,.22],[9.25,.32],[9.31,.27],[9.36,.36],[9.42,.24],[9.47,.30]
];

// ---- chart ----
const FONT = '"Liberation Sans", Arial, Helvetica, sans-serif';
const toXY = a => a.map(p => ({x: p[0], y: p[1]}));
const normalBand = [].concat(bandLeft, bandLeft2, bandMid, bandRight);
const normalCore = [].concat(bandCore, bandCore2);

const decor = {
  id: 'decor',
  beforeDraw(c) {
    const ctx = c.ctx;
    ctx.save(); ctx.fillStyle = '#fff'; ctx.fillRect(0, 0, c.width, c.height); ctx.restore();
  },
  afterDraw(c) {
    const ctx = c.ctx, a = c.chartArea, xs = c.scales.x, ys = c.scales.y;
    ctx.save();
    ctx.strokeStyle = '#000'; ctx.lineWidth = 1.5;
    ctx.strokeRect(a.left, a.top, a.right - a.left, a.bottom - a.top);
    ctx.beginPath();
    xTicks.forEach(v => { const p = xs.getPixelForValue(v); ctx.moveTo(p, a.bottom); ctx.lineTo(p, a.bottom + 15); });
    yTicks.forEach(v => { const p = ys.getPixelForValue(v); ctx.moveTo(a.left, p); ctx.lineTo(a.left - 15, p); });
    ctx.stroke();
    ctx.fillStyle = '#000'; ctx.font = '24px ' + FONT;
    ctx.textAlign = 'center'; ctx.textBaseline = 'alphabetic';
    xTicks.forEach((v, i) => ctx.fillText(xTickLabels[i], xs.getPixelForValue(v), a.bottom + 56));
    yTicks.forEach((v, i) => {
      const p = ys.getPixelForValue(v);
      ctx.save(); ctx.translate(a.left - 36, p); ctx.rotate(-Math.PI / 2); ctx.fillText(yTickLabels[i], 0, 0); ctx.restore();
    });
    ctx.fillText(xTitle, (a.left + a.right) / 2, a.bottom + 116);
    ctx.save(); ctx.translate(a.left - 94, (a.top + a.bottom) / 2); ctx.rotate(-Math.PI / 2); ctx.fillText(yTitle, 0, 0); ctx.restore();
    // legend
    const bw = 138, bh = 91, bx = a.right - bw, by = a.top;
    ctx.fillStyle = '#fff'; ctx.fillRect(bx, by, bw, bh);
    ctx.strokeRect(bx, by, bw, bh);
    const colors = ['#000000', '#ff0000'];
    legendLabels.forEach((t, i) => {
      const cy = by + 31 + i * 30.5;
      ctx.fillStyle = colors[i];
      ctx.beginPath(); ctx.arc(bx + 23, cy, 4.6, 0, Math.PI * 2); ctx.fill();
      ctx.fillStyle = '#000'; ctx.textAlign = 'left';
      ctx.fillText(t, bx + 47, cy + 8.5);
    });
    ctx.restore();
  }
};

new Chart(document.getElementById('c'), {
  type: 'scatter',
  data: {
    datasets: [
      { type: 'line', label: 'trend', data: trendX.map((x, i) => ({x: x, y: trendY[i]})),
        borderColor: '#0000ff', borderWidth: 1.5, pointRadius: 0, fill: false, cubicInterpolationMode: 'monotone' },
      { label: 'Outlier', data: toXY(outlierPts), backgroundColor: '#ff0000', pointRadius: 1.8, borderWidth: 0 },
      { label: 'Normal', data: toXY(normalSparse), backgroundColor: '#000000', pointRadius: 1.8, borderWidth: 0 },
      { label: 'Normal band', data: toXY(normalBand), backgroundColor: '#000000', pointRadius: 2.5, borderWidth: 0 },
      { label: 'Normal core', data: toXY(normalCore), backgroundColor: '#000000', pointRadius: 3.2, borderWidth: 0 }
    ]
  },
  options: {
    responsive: false, animation: false, events: [], devicePixelRatio: 1,
    layout: { padding: { left: 123, top: 122, right: 63, bottom: 155 } },
    plugins: { legend: { display: false }, tooltip: { enabled: false } },
    scales: {
      x: { type: 'linear', min: -3.15, max: 13.75, display: false },
      y: { type: 'linear', min: 0.0107, max: 1.869, display: false }
    }
  },
  plugins: [decor]
});
</script>
</body></html>
